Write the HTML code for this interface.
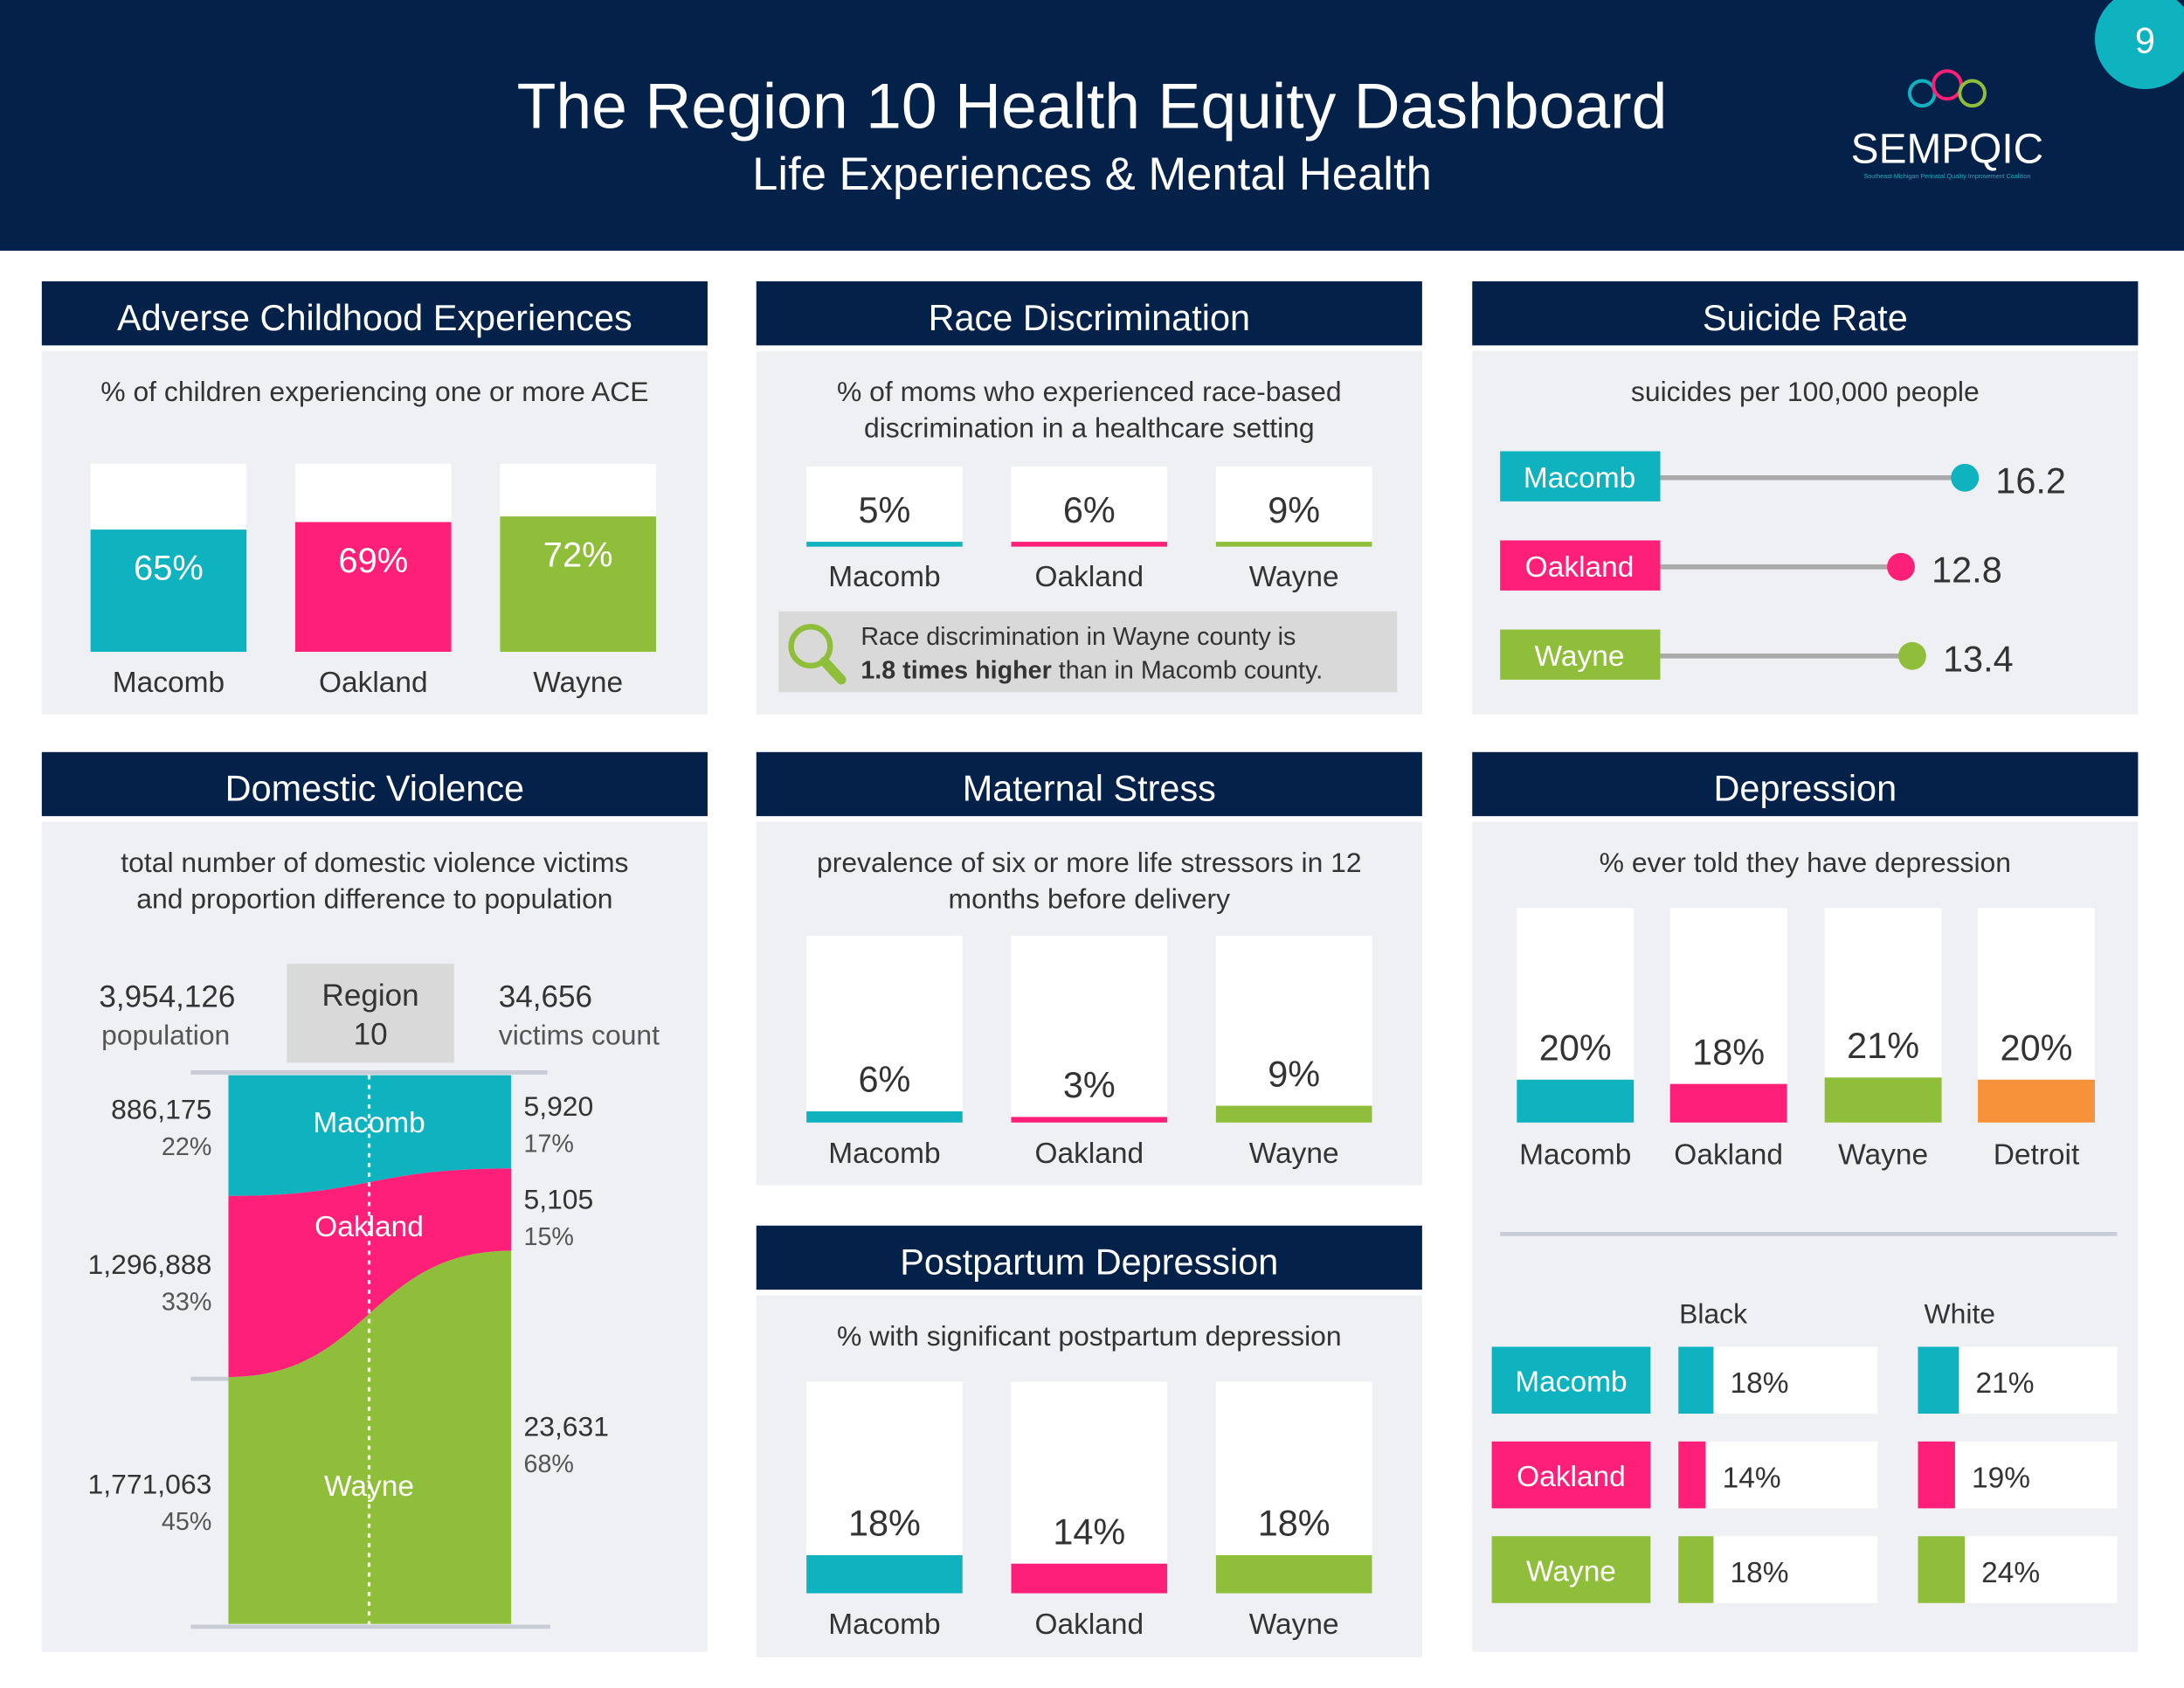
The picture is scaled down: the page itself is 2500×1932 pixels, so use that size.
<!DOCTYPE html>
<html><head><meta charset="utf-8"><style>
html,body{margin:0;padding:0;background:#fff;}
svg{display:block;font-family:"Liberation Sans",sans-serif;}
</style></head><body>
<svg id="main" width="2500" height="1932" viewBox="0 0 1568 1212" preserveAspectRatio="none" xmlns="http://www.w3.org/2000/svg">
<rect x="0" y="0" width="1568" height="1212" fill="#ffffff"/>
<rect x="0" y="0" width="1568" height="180" fill="#04214a"/>
<text x="784" y="92" text-anchor="middle" fill="#fff" font-size="46">The Region 10 Health Equity Dashboard</text>
<text x="784" y="136" text-anchor="middle" fill="#fff" font-size="33">Life Experiences &amp; Mental Health</text>
<circle cx="1540" cy="28" r="36" fill="#0fb2bf"/>
<text x="1540" y="38" text-anchor="middle" fill="#fff" font-size="26">9</text>
<g fill="none" stroke-width="2.5">
<circle cx="1380" cy="67" r="9" stroke="#0fb2bf"/><circle cx="1398" cy="61" r="10" stroke="#fe1f79"/><circle cx="1416" cy="67" r="9" stroke="#8fbf3a"/>
<text x="1398" y="117" text-anchor="middle" fill="#fff" stroke="none" font-size="30">SEMPQIC</text>
<text x="1398" y="128" text-anchor="middle" fill="#0fb2bf" stroke="none" font-size="4.5">Southeast Michigan Perinatal Quality Improvement Coalition</text>
</g>
<g id="panels"></g>
<g id="marks"></g>
</svg>
<script>
var NS='http://www.w3.org/2000/svg';
var C={teal:'#0fb2bf',pink:'#fe1f79',green:'#8fbf3a',orange:'#f7923a',navy:'#04214a',bg:'#eff0f4',txt:'#333'};
// ---- data ----
var counties=['Macomb','Oakland','Wayne'];
var countyColors=[C.teal,C.pink,C.green];
var aceValues=[65,69,72];
var raceValues=[5,6,9];
var suicideValues=[16.2,12.8,13.4];
var stressValues=[6,3,9];
var ppdValues=[18,14,18];
var depCategories=['Macomb','Oakland','Wayne','Detroit'];
var depValues=[20,18,21,20];
var depBlack=[18,14,18];
var depWhite=[21,19,24];
var dvPopulation=['886,175','1,296,888','1,771,063'];
var dvPopPct=[22,33,45];
var dvVictims=['5,920','5,105','23,631'];
var dvVictimPct=[17,15,68];

var P=document.getElementById('panels'),M=document.getElementById('marks');
function el(tag,a,parent){var e=document.createElementNS(NS,tag);for(var k in a)e.setAttribute(k,a[k]);(parent||M).appendChild(e);return e;}
function tx(x,y,s,size,fill,anchor,parent){var e=el('text',{x:x,y:y,'font-size':size,fill:fill,'text-anchor':anchor||'middle'},parent);e.textContent=s;return e;}

function panel(x,y1,y2,title,subs,name){
  var h=el('rect',{x:x,y:y1,width:478,height:46,fill:C.navy},P);
  
  
  var t=tx(x+239,y1+35,title,26,'#fff','middle',P);
  
  
  var b=el('rect',{x:x,y:y1+50,width:478,height:y2-y1-50,fill:C.bg},P);
  
  
  for(var i=0;i<subs.length;i++){var s=tx(x+239,y1+86+i*26,subs[i],20,C.txt,'middle',P);
    
    }
}
panel(30,202,513,'Adverse Childhood Experiences',['% of children experiencing one or more ACE'],'ace');
panel(543,202,513,'Race Discrimination',['% of moms who experienced race-based','discrimination in a healthcare setting'],'race');
panel(1057,202,513,'Suicide Rate',['suicides per 100,000 people'],'suicide');
panel(30,540,1186,'Domestic Violence',['total number of domestic violence victims','and proportion difference to population'],'dv');
panel(543,540,851,'Maternal Stress',['prevalence of six or more life stressors in 12','months before delivery'],'stress');
panel(543,880,1190,'Postpartum Depression',['% with significant postpartum depression'],'ppd');
panel(1057,540,1186,'Depression',['% ever told they have depression'],'depression');

function vbars(xs,w,top,bot,vals,cols,names,pref,fullScale,labelInside,nameY){
  for(var i=0;i<vals.length;i++){
    var bx=el('rect',{x:xs[i],y:top,width:w,height:bot-top,fill:'#fff'});
    
    
    var h=(bot-top)*vals[i]/fullScale;
    var b=el('rect',{x:xs[i],y:bot-h,width:w,height:h,fill:cols[i]});
    
    
    var l=labelInside?tx(xs[i]+w/2,bot-h+36,vals[i]+'%',25,'#fff'):tx(xs[i]+w/2,bot-h-14,vals[i]+'%',26,C.txt);
    
    
    var n=tx(xs[i]+w/2,nameY,names[i],21,C.txt);
    
    
  }
}
vbars([65,212,359],112,333,468,aceValues,countyColors,counties,'ace',100,true,497);
vbars([579,726,873],112,672,806,stressValues,countyColors,counties,'stress',100,false,835);
vbars([579,726,873],112,992,1144,ppdValues,countyColors,counties,'ppd',100,false,1173);
vbars([1089,1199,1310,1420],84,652,806,depValues,[C.teal,C.pink,C.green,C.orange],depCategories,'dep',100,false,836);

for(var i=0;i<3;i++){
  var x=[579,726,873][i];
  var b=el('rect',{x:x,y:335,width:112,height:57,fill:'#fff'});
  
  
  var ln=el('rect',{x:x,y:389,width:112,height:3.5,fill:countyColors[i]});
  
  
  var v=tx(x+56,375,raceValues[i]+'%',26,C.txt);
  
  
  var n=tx(x+56,421,counties[i],21,C.txt);
  
  
}
var cb=el('rect',{x:559,y:439,width:444,height:58,fill:'#d9d9d9'});


var mg=el('g',{fill:'none',stroke:C.green,'stroke-width':4});


el('circle',{cx:582,cy:464,r:14},mg);el('line',{x1:592,y1:475,x2:604,y2:488,'stroke-width':7,'stroke-linecap':'round'},mg);
var c1=tx(618,463,'Race discrimination in Wayne county is',18,C.txt,'start');


var c2=el('text',{x:618,y:487,'font-size':18,fill:C.txt});


var ts=el('tspan',{'font-weight':'bold'},c2);ts.textContent=(raceValues[2]/raceValues[0]).toFixed(1)+' times higher';
var ts2=el('tspan',{},c2);ts2.textContent='  than in Macomb county.';

var sx0=1192,sk=13.5;
for(var i=0;i<3;i++){
  var y=[342,406,470][i];
  var r=el('rect',{x:1077,y:y-18,width:115,height:36,fill:countyColors[i]});
  
  
  var t=tx(1134,y+8,counties[i],21,'#fff');
  
  
  var xe=sx0+suicideValues[i]*sk;
  var l=el('line',{x1:sx0,y1:y+1,x2:xe,y2:y+1,stroke:'#aaaaaa','stroke-width':3.5});
  
  
  var d=el('circle',{cx:xe,cy:y+1,r:10,fill:countyColors[i]});
  
  
  var v=tx(xe+22,y+12,suicideValues[i].toFixed(1),26,C.txt,'start');
  
  
}

var dl=el('line',{x1:1077,y1:886,x2:1520,y2:886,stroke:'#c8ccd6','stroke-width':3});


var hb=tx(1230,950,'Black',20,C.txt);


var hw=tx(1407,950,'White',20,C.txt);


var pk=1.4;
for(var i=0;i<3;i++){
  var y=[967,1035,1103][i];
  var r=el('rect',{x:1071,y:y,width:114,height:48,fill:countyColors[i]});
  
  
  var t=tx(1128,y+32,counties[i],21,'#fff');
  
  
  [[1205,depBlack,'black'],[1377,depWhite,'white']].forEach(function(c){
    var bx=el('rect',{x:c[0],y:y,width:143,height:48,fill:'#fff'});
    
    
    var w=c[1][i]*pk;
    var b=el('rect',{x:c[0],y:y,width:w,height:48,fill:countyColors[i]});
    
    
    var v=tx(c[0]+w+12,y+33,c[1][i]+'%',21,C.txt,'start');
    
    
  });
}

var dvTop=772,dvBot=1166,dvL=164,dvR=367,dvMid=265,H=dvBot-dvTop;
var lb=[dvTop],rb=[dvTop];
for(var i=0;i<3;i++){lb.push(lb[i]+H*dvPopPct[i]/100);rb.push(rb[i]+H*dvVictimPct[i]/100);}
lb[3]=dvBot;rb[3]=dvBot;
var popOff=[-12,-9,-5];
function curve(yl,yr){return 'C'+dvMid+','+yl+' '+dvMid+','+yr+' '+dvR+','+yr;}
function curveBack(yr,yl){return 'C'+dvMid+','+yr+' '+dvMid+','+yl+' '+dvL+','+yl;}
for(var i=0;i<3;i++){
  var d='M'+dvL+','+lb[i]+' '+curve(lb[i],rb[i])+' L'+dvR+','+rb[i+1]+' '+curveBack(rb[i+1],lb[i+1])+' Z';
  var p=el('path',{d:d,fill:countyColors[i]});
  
  
  var ym=i==0?806:(i==1?(lb[1]+rb[1])/2+32:(rb[2]+dvBot)/2+35);
  var t=tx(dvMid,ym+7,counties[i],21,'#fff');
  
  
  var mid=(lb[i]+lb[i+1])/2+popOff[i];
  var pv=tx(152,mid,dvPopulation[i],20,C.txt,'end');
  
  
  var pp=tx(152,mid+26,dvPopPct[i]+'%',18,'#555','end');
  
  
  var vy=i==2?1031:rb[i]+29;
  var vv=tx(376,vy,dvVictims[i],20,C.txt,'start');
  
  
  var vp=tx(376,vy+26,dvVictimPct[i]+'%',18,'#555','start');
  
  
}
var dot=el('line',{x1:dvMid,y1:dvTop,x2:dvMid,y2:dvBot,stroke:'#fff','stroke-width':2,'stroke-dasharray':'3,4'});


[[137,393,770],[137,164,990],[137,395,1168]].forEach(function(g){
  var l=el('line',{x1:g[0],y1:g[2],x2:g[1],y2:g[2],stroke:'#c8ccd6','stroke-width':3});
  
  
});
var rg=el('rect',{x:206,y:692,width:120,height:71,fill:'#d9d9d9'});


var r1=tx(266,722,'Region',22,C.txt);


var r2=tx(266,750,'10',22,C.txt);


var a1=tx(120,723,'3,954,126',22,C.txt);


var a2=tx(119,750,'population',20,'#555');


var b1=tx(358,723,'34,656',22,C.txt,'start');


var b2=tx(358,750,'victims count',20,'#555','start');


</script>
</body></html>
